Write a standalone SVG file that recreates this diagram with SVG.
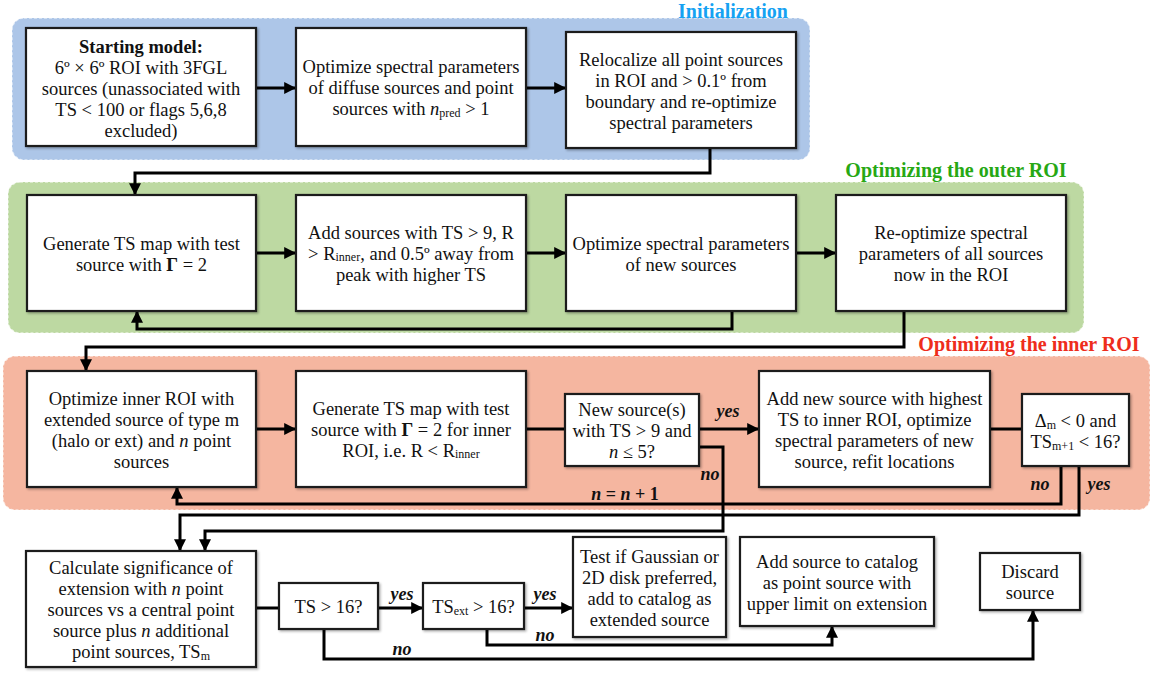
<svg xmlns="http://www.w3.org/2000/svg" width="1151" height="675" viewBox="0 0 1151 675">
<style>
  .region { stroke: #ffffff; stroke-opacity: 0.6; stroke-width: 1.5; stroke-dasharray: 3 2; }
  .box { fill: #ffffff; stroke: #1a1a1a; stroke-width: 2.2; filter: url(#sh); }
  .t { font-family: "Liberation Serif", "Times New Roman", serif; font-size: 18.5px; fill: #111; text-anchor: middle; }
  .b { font-weight: bold; }
  .i { font-style: italic; }
  .sub { font-size: 12px; }
  .lbl { font-family: "Liberation Serif", "Times New Roman", serif; font-size: 18px; font-weight: bold; font-style: italic; fill: #111; text-anchor: middle; }
  .title { font-family: "Liberation Serif", "Times New Roman", serif; font-size: 20px; font-weight: bold; text-anchor: middle; }
  .c { fill: none; stroke: #000; stroke-width: 3; }
  .a { marker-end: url(#ah); }
</style>
<defs>
  <marker id="ah" viewBox="0 0 10 10" refX="9" refY="5" markerWidth="4.2" markerHeight="4" orient="auto" markerUnits="strokeWidth">
    <path d="M0,0 L10,5 L0,10 z" fill="#000"/>
  </marker>
  <filter id="sh" x="-5%" y="-5%" width="112%" height="115%">
    <feDropShadow dx="1.5" dy="1.5" stdDeviation="1" flood-color="#000" flood-opacity="0.3"/>
  </filter>
</defs>
<rect width="1151" height="675" fill="#ffffff"/>

<g id="regions">
  <rect class="region" x="12" y="18" width="798" height="142" rx="12" fill="#adc6e8"/>
  <rect class="region" x="8" y="182" width="1076" height="151" rx="12" fill="#bdd9a2"/>
  <rect class="region" x="3" y="356" width="1147" height="154" rx="12" fill="#f5b6a0"/>
  <text class="title" x="733" y="18" fill="#16a2f2">Initialization</text>
  <text class="title" x="956" y="177" fill="#27a814">Optimizing the outer ROI</text>
  <text class="title" x="1029" y="351" fill="#ee2d1c">Optimizing the inner ROI</text>
</g>

<g id="connectors">
  <path class="c a" d="M256,88 H295"/>
  <path class="c a" d="M526,88 H565"/>
  <path class="c a" d="M710,148 V173 H135 V194"/>
  <path class="c a" d="M256,253 H295"/>
  <path class="c a" d="M526,253 H565"/>
  <path class="c a" d="M796,253 H835"/>
  <path class="c a" d="M732,311 V329 H137 V312"/>
  <path class="c a" d="M904,311 V347 H86 V370"/>
  <path class="c a" d="M256,429 H295"/>
  <path class="c" d="M526,429 H565"/>
  <path class="c a" d="M699,429 H758"/>
  <path class="c" d="M990,429 H1022"/>
  <path class="c a" d="M699,447 H723 V531 H205 V550"/>
  <path class="c a" d="M1061,466 V504 H177 V488"/>
  <path class="c a" d="M1079,466 V515 H180 V550"/>
  <path class="c" d="M256,608 H279"/>
  <path class="c a" d="M378,608 H422"/>
  <path class="c a" d="M524,608 H572"/>
  <path class="c a" d="M487,629 V645 H832 V627"/>
  <path class="c a" d="M324,629 V659 H1033 V611"/>
  <text class="lbl" x="728" y="417">yes</text>
  <text class="lbl" x="710" y="480">no</text>
  <text class="lbl" x="1040" y="490">no</text>
  <text class="lbl" x="1099" y="490">yes</text>
  <text class="lbl" x="625" y="500"><tspan>n</tspan><tspan font-style="normal"> = </tspan><tspan>n</tspan><tspan font-style="normal"> + 1</tspan></text>
  <text class="lbl" x="402" y="600">yes</text>
  <text class="lbl" x="545" y="600">yes</text>
  <text class="lbl" x="545" y="641">no</text>
  <text class="lbl" x="402" y="655">no</text>
</g>

<g id="start">
  <rect class="box" x="26" y="28" width="230" height="118"/>
  <text class="t" x="141" y="53"><tspan class="b">Starting model:</tspan></text>
  <text class="t" x="141" y="74">6º × 6º ROI with 3FGL</text>
  <text class="t" x="141" y="95">sources (unassociated with</text>
  <text class="t" x="141" y="116">TS &lt; 100 or flags 5,6,8</text>
  <text class="t" x="141" y="137">excluded)</text>
</g>
<g id="opt-diffuse">
  <rect class="box" x="296" y="28" width="230" height="118"/>
  <text class="t" x="411" y="73">Optimize spectral parameters</text>
  <text class="t" x="411" y="94">of diffuse sources and point</text>
  <text class="t" x="411" y="115">sources with <tspan class="i">n</tspan><tspan class="sub" dy="2">pred</tspan><tspan dy="-2"> &gt; 1</tspan></text>
</g>
<g id="relocalize">
  <rect class="box" x="566" y="32" width="230" height="116"/>
  <text class="t" x="681" y="66">Relocalize all point sources</text>
  <text class="t" x="681" y="87">in ROI and &gt; 0.1º from</text>
  <text class="t" x="681" y="108">boundary and re-optimize</text>
  <text class="t" x="681" y="129">spectral parameters</text>
</g>

<g id="ts-map">
  <rect class="box" x="27" y="195" width="229" height="116"/>
  <text class="t" x="141.5" y="249.5">Generate TS map with test</text>
  <text class="t" x="141.5" y="270.5">source with <tspan class="b">Γ</tspan> = 2</text>
</g>
<g id="add-sources">
  <rect class="box" x="296" y="195" width="230" height="116"/>
  <text class="t" x="411" y="239">Add sources with TS &gt; 9, R</text>
  <text class="t" x="411" y="260">&gt; R<tspan class="sub" dy="1">inner</tspan><tspan dy="-1">, and 0.5º away from</tspan></text>
  <text class="t" x="411" y="281">peak with higher TS</text>
</g>
<g id="opt-new">
  <rect class="box" x="566" y="195" width="230" height="116"/>
  <text class="t" x="681" y="249.5">Optimize spectral parameters</text>
  <text class="t" x="681" y="270.5">of new sources</text>
</g>
<g id="reopt">
  <rect class="box" x="836" y="195" width="230" height="116"/>
  <text class="t" x="951" y="239">Re-optimize spectral</text>
  <text class="t" x="951" y="260">parameters of all sources</text>
  <text class="t" x="951" y="281">now in the ROI</text>
</g>

<g id="opt-inner">
  <rect class="box" x="27" y="371" width="229" height="116"/>
  <text class="t" x="141.5" y="404.5">Optimize inner ROI with</text>
  <text class="t" x="141.5" y="425.5">extended source of type m</text>
  <text class="t" x="141.5" y="446.5">(halo or ext) and <tspan class="i">n</tspan> point</text>
  <text class="t" x="141.5" y="467.5">sources</text>
</g>
<g id="ts-map-inner">
  <rect class="box" x="296" y="371" width="230" height="116"/>
  <text class="t" x="411" y="415">Generate TS map with test</text>
  <text class="t" x="411" y="436">source with <tspan class="b">Γ</tspan> = 2 for inner</text>
  <text class="t" x="411" y="457">ROI, i.e. R &lt; R<tspan class="sub" dy="1">inner</tspan></text>
</g>
<g id="new-source-q">
  <rect class="box" x="565" y="394" width="134" height="72"/>
  <text class="t" x="632" y="416">New source(s)</text>
  <text class="t" x="632" y="437">with TS &gt; 9 and</text>
  <text class="t" x="632" y="458"><tspan class="i">n</tspan> ≤ 5?</text>
</g>
<g id="add-new">
  <rect class="box" x="759" y="371" width="231" height="116"/>
  <text class="t" x="874.5" y="404.5">Add new source with highest</text>
  <text class="t" x="874.5" y="425.5">TS to inner ROI, optimize</text>
  <text class="t" x="874.5" y="446.5">spectral parameters of new</text>
  <text class="t" x="874.5" y="467.5">source, refit locations</text>
</g>
<g id="delta-q">
  <rect class="box" x="1022" y="394" width="107" height="72"/>
  <text class="t" x="1075.5" y="426.5">Δ<tspan class="sub" dy="2">m</tspan><tspan dy="-2"> &lt; 0 and</tspan></text>
  <text class="t" x="1075.5" y="447.5">TS<tspan class="sub" dy="2">m+1</tspan><tspan dy="-2"> &lt; 16?</tspan></text>
</g>

<g id="calc-sig">
  <rect class="box" x="26" y="551" width="230" height="116"/>
  <text class="t" x="141" y="574">Calculate significance of</text>
  <text class="t" x="141" y="595">extension with <tspan class="i">n</tspan> point</text>
  <text class="t" x="141" y="616">sources vs a central point</text>
  <text class="t" x="141" y="637">source plus <tspan class="i">n</tspan> additional</text>
  <text class="t" x="141" y="658">point sources, TS<tspan class="sub" dy="2">m</tspan></text>
</g>
<g id="ts16-q">
  <rect class="box" x="279" y="583" width="99" height="46"/>
  <text class="t" x="328.5" y="613">TS &gt; 16?</text>
</g>
<g id="tsext-q">
  <rect class="box" x="423" y="583" width="101" height="46"/>
  <text class="t" x="473.5" y="613">TS<tspan class="sub" dy="2">ext</tspan><tspan dy="-2"> &gt; 16?</tspan></text>
</g>
<g id="extended">
  <rect class="box" x="573" y="537" width="153" height="100"/>
  <text class="t" x="649.5" y="562.5">Test if Gaussian or</text>
  <text class="t" x="649.5" y="583.5">2D disk preferred,</text>
  <text class="t" x="649.5" y="604.5">add to catalog as</text>
  <text class="t" x="649.5" y="625.5">extended source</text>
</g>
<g id="point-source">
  <rect class="box" x="740" y="537" width="194" height="89"/>
  <text class="t" x="837" y="567.5">Add source to catalog</text>
  <text class="t" x="837" y="588.5">as point source with</text>
  <text class="t" x="837" y="609.5">upper limit on extension</text>
</g>
<g id="discard">
  <rect class="box" x="980" y="553" width="100" height="57"/>
  <text class="t" x="1030" y="578">Discard</text>
  <text class="t" x="1030" y="599">source</text>
</g>
</svg>
